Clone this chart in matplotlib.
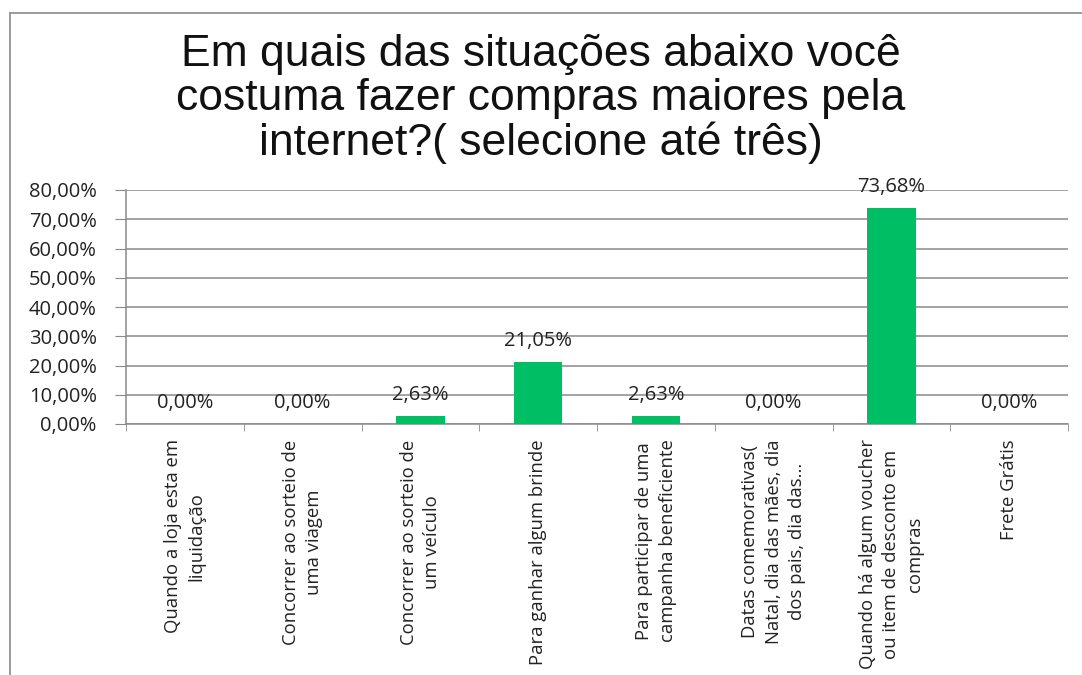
import matplotlib.pyplot as plt
from matplotlib.lines import Line2D

categories = [
    "Quando a loja esta em\nliquidação",
    "Concorrer ao sorteio de\numa viagem",
    "Concorrer ao sorteio de\num veículo",
    "Para ganhar algum brinde",
    "Para participar de uma\ncampanha beneficiente",
    "Datas comemorativas(\nNatal, dia das mães, dia\ndos pais, dia das...",
    "Quando há algum voucher\nou item de desconto em\ncompras",
    "Frete Grátis",
]
values = [0.0, 0.0, 2.63, 21.05, 2.63, 0.0, 73.68, 0.0]
yticks = [0, 10, 20, 30, 40, 50, 60, 70, 80]

title = "Em quais das situações abaixo você\ncostuma fazer compras maiores pela\ninternet?( selecione até três)"


def pct(v):
    return ("%.2f%%" % v).replace(".", ",")


def main():
    W, H = 1082, 675
    fig = plt.figure(figsize=(W / 100, H / 100), dpi=100)
    ax = fig.add_axes([126 / W, 1 - 424 / H, (1068 - 126) / W, (424 - 190) / H])

    x = list(range(len(categories)))
    ax.bar(x, values, width=0.41, color="#00BE64", zorder=3)

    for xi, v in zip(x, values):
        ax.annotate(pct(v), (xi, v), xytext=(0, 8), textcoords="offset points",
                    ha="center", va="bottom", fontsize=14.5, family="Open Sans", color="#222222")

    ax.set_xlim(-0.5, len(categories) - 0.5)
    ax.set_ylim(0, 80)
    ax.set_yticks(yticks)
    ax.set_yticklabels([pct(t) for t in yticks], fontsize=14.5, family="Open Sans", color="#222222")
    ax.yaxis.grid(True, color="#8a8a8a", linewidth=1.1, zorder=0)
    ax.tick_params(axis="y", length=8, color="#8a8a8a", pad=13)

    ax.set_xticks(x)
    ax.set_xticklabels(categories, rotation=90, ha="center", va="top", multialignment="center",
                       fontsize=13.3, family="Open Sans", color="#222222", linespacing=1.4)
    ax.tick_params(axis="x", which="major", length=0, pad=11)
    ax.set_xticks([i + 0.5 for i in range(-1, len(categories))], minor=True)
    ax.tick_params(axis="x", which="minor", length=5, color="#8a8a8a")

    for s in ["top", "right"]:
        ax.spines[s].set_visible(False)
    for s in ["left", "bottom"]:
        ax.spines[s].set_color("#8a8a8a")
        ax.spines[s].set_linewidth(1.1)

    fig.text(0.5, 1 - 34 / H, title, ha="center", va="top", fontsize=32,
             family="Liberation Sans", linespacing=1.09, color="#111111")

    # frame of the original screenshot: left and top edges only
    fig.add_artist(Line2D([10 / W, 10 / W], [0, 1 - 13 / H], transform=fig.transFigure,
                          color="#8a8a8a", linewidth=1.2))
    fig.add_artist(Line2D([10 / W, 1], [1 - 13 / H, 1 - 13 / H], transform=fig.transFigure,
                          color="#8a8a8a", linewidth=1.2))

    fig.savefig("out.png", dpi=100)


if __name__ == "__main__":
    main()
